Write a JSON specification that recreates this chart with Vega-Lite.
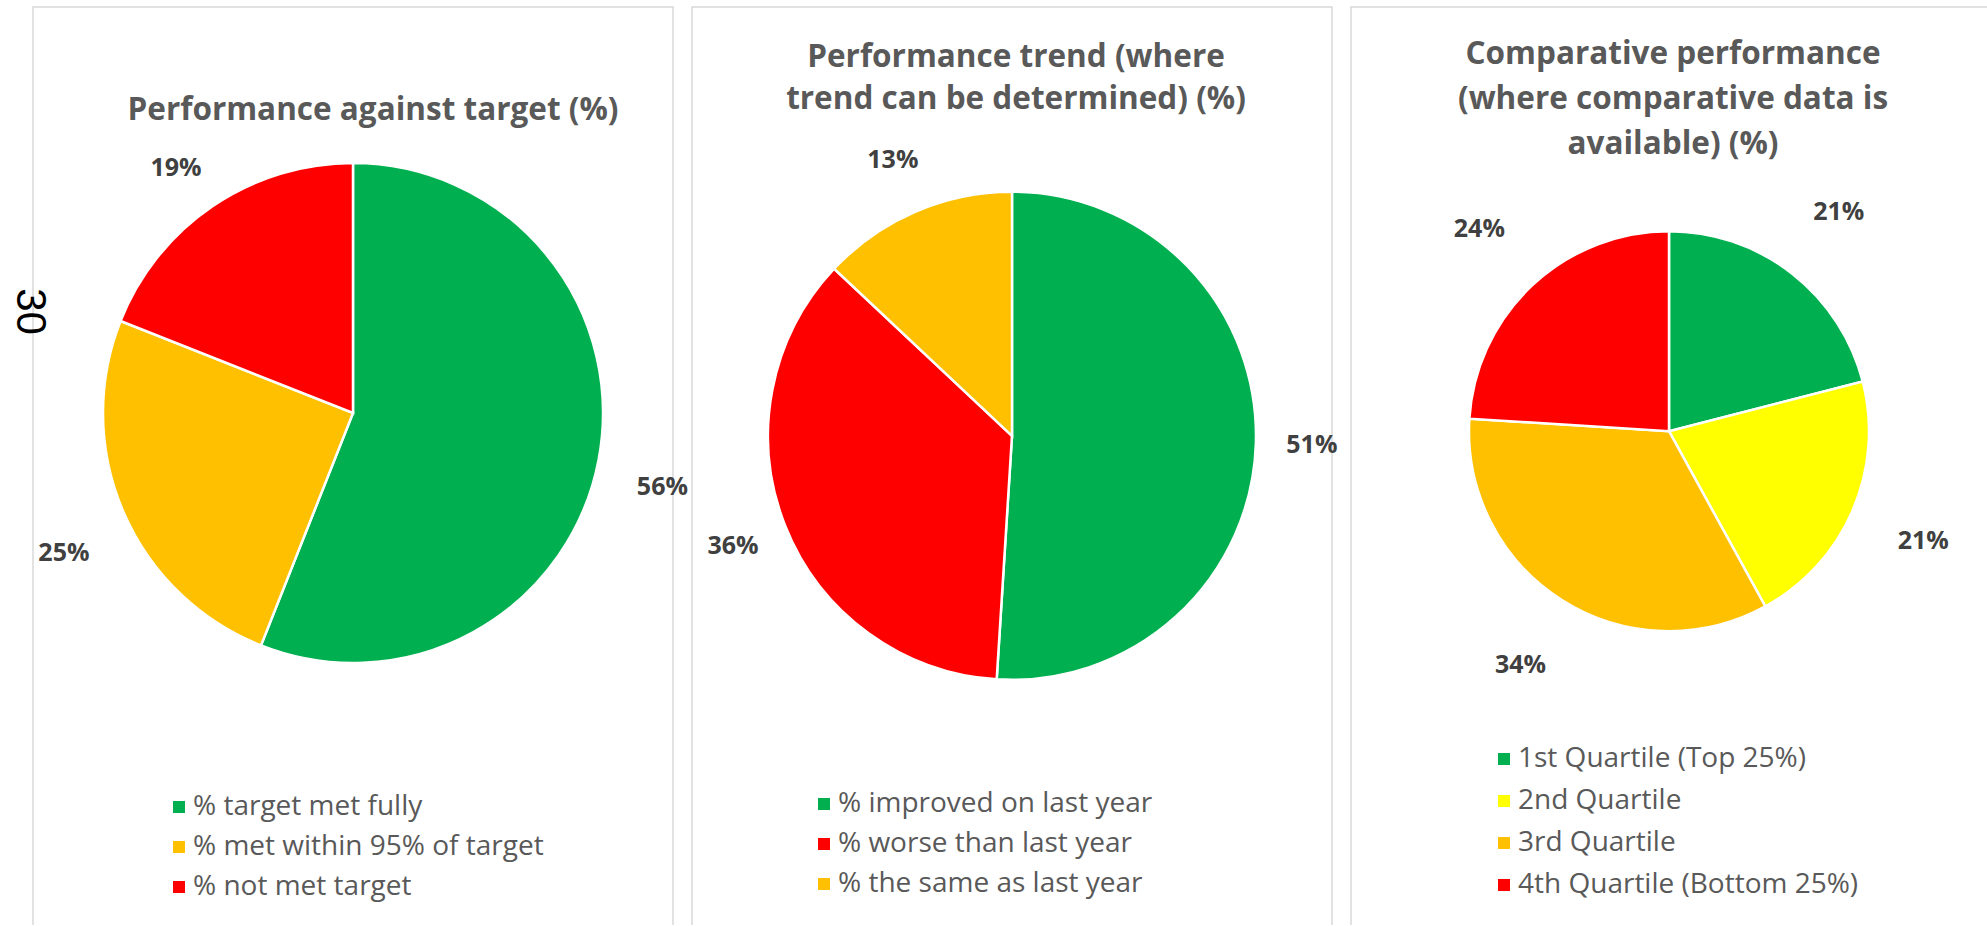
{
  "$schema": "https://vega.github.io/schema/vega-lite/v6.json",
  "padding": {"left": 7, "top": 6, "right": 0, "bottom": 0},
  "background": "white",
  "datasets": {
    "target": [
      {"cat": "% target met fully", "value": 56, "label": "56%", "ord": 1},
      {"cat": "% met within 95% of target", "value": 25, "label": "25%", "ord": 2},
      {"cat": "% not met target", "value": 19, "label": "19%", "ord": 3}
    ],
    "trend": [
      {"cat": "% improved on last year", "value": 51, "label": "51%", "ord": 1},
      {"cat": "% worse than last year", "value": 36, "label": "36%", "ord": 2},
      {"cat": "% the same as last year", "value": 13, "label": "13%", "ord": 3}
    ],
    "comparative": [
      {"cat": "1st Quartile (Top 25%)", "value": 21, "label": "21%", "ord": 1},
      {"cat": "2nd Quartile", "value": 21, "label": "21%", "ord": 2},
      {"cat": "3rd Quartile", "value": 34, "label": "34%", "ord": 3},
      {"cat": "4th Quartile (Bottom 25%)", "value": 24, "label": "24%", "ord": 4}
    ]
  },
  "spacing": 19,
  "bounds": "flush",
  "hconcat": [
    {
      "width": 640,
      "height": 918,
      "view": {"stroke": "#d9d9d9", "strokeWidth": 1.5, "strokeDash": [1558, 640, 1000]},
      "title": {"text": "Performance against target (%)", "orient": "top", "anchor": "middle", "frame": "group", "offset": -135, "dx": 20, "baseline": "middle", "fontSize": 31.5, "font": "Open Sans", "fontWeight": "bold", "color": "#595959"},
      "data": {"name": "target"},
      "encoding": {
        "theta": {"field": "value", "type": "quantitative", "stack": true},
        "order": {"field": "ord", "type": "quantitative"},
        "y": {"datum": 0.4423, "type": "quantitative", "scale": {"domain": [0, 1], "reverse": true, "nice": false, "zero": false},
          "axis": {"title": "30", "labels": false, "ticks": false, "domain": false, "grid": false, "minExtent": 0, "titleAngle": 90, "titleFont": "Liberation Sans", "titleFontSize": 42, "titleFontWeight": "normal", "titleColor": "#000000", "titleAlign": "center", "titleBaseline": "middle", "titleX": -4, "titleY": 304}}
      },
      "layer": [
        {
          "mark": {"type": "arc", "outerRadius": 250, "stroke": "white", "strokeWidth": 2.5},
          "encoding": {
            "color": {"field": "cat", "type": "nominal",
              "scale": {"domain": ["% target met fully", "% met within 95% of target", "% not met target"], "range": ["#00B050", "#FFC000", "#FF0000"]},
              "legend": {"orient": "none", "legendX": 132, "legendY": 786, "title": null, "rowPadding": 12}}
          }
        },
        {
          "mark": {"type": "text", "radius": 315, "dy": 15, "font": "Open Sans", "fontSize": 25, "fontWeight": "bold", "color": "#404040", "align": "center", "baseline": "middle"},
          "encoding": {"text": {"field": "label"}}
        }
      ]
    },
    {
      "width": 640,
      "height": 918,
      "view": {"stroke": "#d9d9d9", "strokeWidth": 1.5, "strokeDash": [1558, 640, 1000]},
      "title": {"text": ["Performance trend (where", "trend can be determined) (%)"], "orient": "top", "anchor": "middle", "frame": "group", "offset": -124, "dx": 4, "baseline": "middle", "lineHeight": 42, "fontSize": 31.5, "font": "Open Sans", "fontWeight": "bold", "color": "#595959"},
      "data": {"name": "trend"},
      "encoding": {
        "theta": {"field": "value", "type": "quantitative", "stack": true},
        "order": {"field": "ord", "type": "quantitative"},
        "y": {"datum": 0.4671, "type": "quantitative", "scale": {"domain": [0, 1], "reverse": true, "nice": false, "zero": false}, "axis": null}
      },
      "layer": [
        {
          "mark": {"type": "arc", "outerRadius": 244, "stroke": "white", "strokeWidth": 2.5},
          "encoding": {
            "color": {"field": "cat", "type": "nominal",
              "scale": {"domain": ["% improved on last year", "% worse than last year", "% the same as last year"], "range": ["#00B050", "#FF0000", "#FFC000"]},
              "legend": {"orient": "none", "legendX": 118, "legendY": 783, "title": null, "rowPadding": 12}}
          }
        },
        {
          "mark": {"type": "text", "radius": 300, "font": "Open Sans", "fontSize": 25, "fontWeight": "bold", "color": "#404040", "align": "center", "baseline": "middle"},
          "encoding": {"text": {"field": "label"}}
        }
      ]
    },
    {
      "width": 636,
      "height": 918,
      "view": {"stroke": "#d9d9d9", "strokeWidth": 1.5, "strokeDash": [636, 1554, 1000]},
      "title": {"text": ["Comparative performance", "(where comparative data is", "available) (%)"], "orient": "top", "anchor": "middle", "frame": "group", "offset": -169, "dx": 4, "baseline": "middle", "lineHeight": 45, "fontSize": 31.5, "font": "Open Sans", "fontWeight": "bold", "color": "#595959"},
      "data": {"name": "comparative"},
      "encoding": {
        "theta": {"field": "value", "type": "quantitative", "stack": true},
        "order": {"field": "ord", "type": "quantitative"},
        "y": {"datum": 0.4621, "type": "quantitative", "scale": {"domain": [0, 1], "reverse": true, "nice": false, "zero": false}, "axis": null}
      },
      "layer": [
        {
          "mark": {"type": "arc", "outerRadius": 200, "stroke": "white", "strokeWidth": 2.5},
          "encoding": {
            "color": {"field": "cat", "type": "nominal",
              "scale": {"domain": ["1st Quartile (Top 25%)", "2nd Quartile", "3rd Quartile", "4th Quartile (Bottom 25%)"], "range": ["#00B050", "#FFFF00", "#FFC000", "#FF0000"]},
              "legend": {"orient": "none", "legendX": 139, "legendY": 738, "title": null, "rowPadding": 14}}
          }
        },
        {
          "mark": {"type": "text", "radius": 277, "font": "Open Sans", "fontSize": 25, "fontWeight": "bold", "color": "#404040", "align": "center", "baseline": "middle"},
          "encoding": {"text": {"field": "label"}}
        }
      ]
    }
  ],
  "resolve": {"scale": {"color": "independent", "theta": "independent", "y": "independent"}, "legend": {"color": "independent"}},
  "config": {
    "font": "Open Sans",
    "view": {"stroke": "#d9d9d9"},
    "legend": {"symbolType": "square", "symbolSize": 144, "symbolStrokeWidth": 0, "labelFont": "Open Sans", "labelFontSize": 28, "labelColor": "#595959", "labelOffset": 0, "labelLimit": 0, "padding": 0}
  }
}
